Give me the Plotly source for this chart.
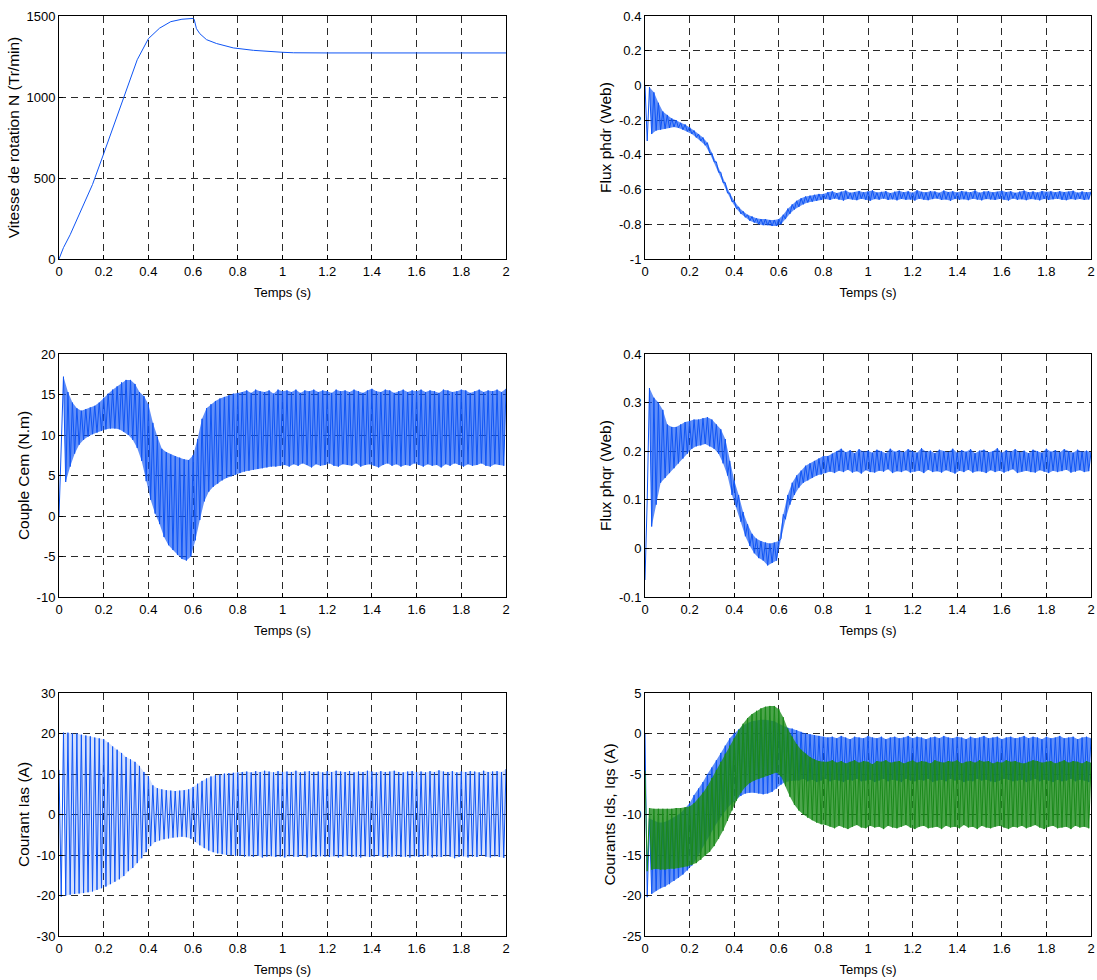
import plotly.graph_objects as go

# ---------------- data ----------------
# sample times: "hi" samples at 0.02*k, "lo" samples at 0.02*k+0.01
t_hi = [round(0.02 * k, 2) for k in range(101)]
t_lo = [round(0.02 * k + 0.01, 2) for k in range(100)]

# Vitesse de rotation N (Tr/min)
speed_t = [0, 0.01, 0.02, 0.05, 0.1, 0.15, 0.2, 0.25, 0.3, 0.35, 0.4, 0.45, 0.5, 0.55, 0.6,
           0.605, 0.615, 0.63, 0.66, 0.705, 0.78, 0.87, 1.0, 1.05, 1.2, 1.5, 2.0]
speed_N = [0, 40, 70, 150, 300, 460, 650, 840, 1040, 1230, 1360, 1425, 1465, 1480, 1485,
           1478, 1422, 1391, 1354, 1330, 1303, 1288, 1276, 1273, 1272, 1272, 1272]

# Flux phdr (Web)
phdr_hi = [0.0, -0.01, -0.04, -0.10, -0.15, -0.17, -0.19, -0.20, -0.215, -0.225,
           -0.24, -0.26, -0.28, -0.30, -0.33, -0.39, -0.44, -0.50, -0.56, -0.62,
           -0.665, -0.70, -0.725, -0.745, -0.755, -0.765, -0.77, -0.77, -0.775, -0.775,
           -0.77, -0.745, -0.71, -0.685, -0.665, -0.65, -0.64, -0.635, -0.63, -0.625,
           -0.625,
           -0.615, -0.610, -0.620, -0.612, -0.606, -0.618, -0.614, -0.608, -0.616, -0.611,
           -0.605, -0.617, -0.613, -0.609, -0.620, -0.612, -0.607, -0.615, -0.610, -0.618,
           -0.604, -0.613, -0.616, -0.609, -0.611, -0.619, -0.606, -0.614, -0.610, -0.617,
           -0.608, -0.612, -0.615, -0.605, -0.618, -0.611, -0.609, -0.616, -0.613, -0.607,
           -0.614, -0.610, -0.619, -0.612, -0.606, -0.615, -0.611, -0.617, -0.608, -0.613,
           -0.610, -0.616, -0.609, -0.614, -0.612, -0.607, -0.618, -0.611, -0.615, -0.612]
phdr_lo = [-0.32, -0.28, -0.26, -0.255, -0.25, -0.245, -0.24, -0.245, -0.255, -0.265,
           -0.28, -0.30, -0.32, -0.345, -0.39, -0.44, -0.50, -0.56, -0.62, -0.67,
           -0.71, -0.74, -0.76, -0.78, -0.79, -0.80, -0.805, -0.805, -0.81, -0.81,
           -0.80, -0.77, -0.74, -0.715, -0.70, -0.685, -0.675, -0.67, -0.665, -0.66,
           -0.655, -0.660, -0.652, -0.658, -0.663, -0.654, -0.657, -0.661, -0.653, -0.659,
           -0.664, -0.655, -0.658, -0.652, -0.660, -0.656, -0.662, -0.654, -0.659, -0.657,
           -0.663, -0.653, -0.658, -0.661, -0.655, -0.652, -0.660, -0.657, -0.664, -0.654,
           -0.659, -0.656, -0.661, -0.653, -0.658, -0.662, -0.655, -0.657, -0.660, -0.654,
           -0.658, -0.663, -0.652, -0.659, -0.656, -0.661, -0.655, -0.657, -0.662, -0.654,
           -0.660, -0.656, -0.653, -0.659, -0.661, -0.655, -0.658, -0.654, -0.660, -0.657]

# Couple Cem (N.m)
cem_hi = [0.0, 17.2, 15.3, 14.0, 13.3, 13.0, 13.2, 13.4, 13.6, 14.0,
          14.6, 15.1, 15.6, 16.0, 16.5, 16.8, 16.8, 16.3, 15.3, 14.8,
          13.8, 11.5, 9.8, 8.3, 7.9, 7.6, 7.4, 7.2, 7.0, 6.9,
          7.5, 9.5, 12.0, 13.3, 13.8, 14.2, 14.5, 14.7, 14.9, 15.1,
          15.2,
          15.3, 15.5, 15.2, 15.6, 15.4, 15.3, 15.5, 15.1, 15.6, 15.4,
          15.5, 15.3, 15.6, 15.2, 15.5, 15.4, 15.6, 15.3, 15.5, 15.4,
          15.2, 15.6, 15.4, 15.5, 15.3, 15.6, 15.4, 15.2, 15.5, 15.7,
          15.4, 15.3, 15.6, 15.5, 15.2, 15.4, 15.6, 15.3, 15.5, 15.4,
          15.6, 15.3, 15.5, 15.4, 15.2, 15.6, 15.5, 15.3, 15.4, 15.6,
          15.5, 15.2, 15.4, 15.6, 15.3, 15.5, 15.4, 15.6, 15.3, 15.7]
cem_lo = [9.0, 4.2, 6.1, 7.7, 8.8, 9.4, 9.8, 10.1, 10.3, 10.5,
          10.7, 10.8, 10.8, 10.7, 10.4, 10.0, 9.4, 8.4, 6.8, 4.3,
          2.0, 0.3, -1.0, -2.6, -3.6, -4.2, -4.8, -5.3, -5.5, -5.0,
          -3.0, -0.5, 1.8, 3.0, 3.6, 4.0, 4.4, 4.7, 4.9, 5.1,
          5.3, 5.5, 5.6, 5.7, 5.8, 5.9, 6.0, 6.1, 6.1, 6.2,
          6.3, 6.1, 6.4, 6.2, 6.5, 6.3, 6.0, 6.4, 6.2, 6.3,
          6.5, 6.2, 6.1, 6.4, 6.3, 6.2, 6.5, 6.1, 6.3, 6.4,
          6.2, 6.0, 6.3, 6.5, 6.2, 6.4, 6.1, 6.3, 6.2, 6.5,
          6.3, 6.1, 6.4, 6.2, 6.3, 6.0, 6.4, 6.2, 6.5, 6.3,
          6.1, 6.4, 6.2, 6.3, 6.5, 6.2, 6.1, 6.4, 6.3, 6.2]

# Flux phqr (Web)
phqr_hi = [-0.065, 0.33, 0.31, 0.30, 0.285, 0.255, 0.25, 0.25, 0.255, 0.26,
           0.262, 0.265, 0.265, 0.268, 0.27, 0.265, 0.255, 0.245, 0.225, 0.18,
           0.14, 0.11, 0.075, 0.05, 0.03, 0.02, 0.015, 0.012, 0.01, 0.012,
           0.015, 0.07, 0.11, 0.135, 0.15, 0.16, 0.17, 0.175, 0.18, 0.185,
           0.19, 0.19,
           0.195, 0.200, 0.205, 0.198, 0.202, 0.196, 0.204, 0.199, 0.201, 0.197,
           0.203, 0.200, 0.196, 0.205, 0.199, 0.202, 0.198, 0.204, 0.200, 0.197,
           0.206, 0.199, 0.201, 0.196, 0.203, 0.200, 0.198, 0.205, 0.197, 0.202,
           0.199, 0.204, 0.196, 0.201, 0.203, 0.198, 0.200, 0.206, 0.197, 0.202,
           0.199, 0.204, 0.198, 0.201, 0.196, 0.203, 0.200, 0.197, 0.205, 0.199,
           0.202, 0.198, 0.204, 0.200, 0.197, 0.203, 0.199, 0.201, 0.198]
phqr_lo = [0.10, 0.045, 0.09, 0.135, 0.145, 0.155, 0.165, 0.175, 0.185, 0.195,
           0.205, 0.21, 0.212, 0.215, 0.21, 0.205, 0.195, 0.175, 0.15, 0.11,
           0.085, 0.055, 0.025, 0.005, -0.01, -0.02, -0.025, -0.035, -0.03, -0.025,
           0.02, 0.06, 0.09, 0.11, 0.125, 0.135, 0.14, 0.145, 0.15, 0.152,
           0.155,
           0.158, 0.155, 0.160, 0.157, 0.162, 0.156, 0.159, 0.154, 0.161, 0.157,
           0.156, 0.160, 0.158, 0.163, 0.155, 0.159, 0.157, 0.161, 0.156, 0.158,
           0.160, 0.155, 0.162, 0.157, 0.159, 0.156, 0.161, 0.158, 0.154, 0.160,
           0.157, 0.162, 0.156, 0.159, 0.158, 0.155, 0.161, 0.157, 0.160, 0.156,
           0.159, 0.163, 0.155, 0.158, 0.160, 0.157, 0.156, 0.161, 0.158, 0.155,
           0.160, 0.157, 0.159, 0.162, 0.156, 0.158, 0.161, 0.157, 0.159]

# Courant Ias (A)
ias_hi = [11.0, 20.2, 20.2, 20.0, 20.0, 19.7, 19.5, 19.3, 19.0, 18.8,
          18.6, 17.8, 16.8, 16.0, 15.2, 14.2, 13.6, 13.0, 12.0, 10.5,
          9.5, 7.2, 6.5, 6.2, 6.0, 5.9, 5.8, 5.9, 6.0, 6.2,
          6.8, 7.6, 8.3, 8.9, 9.4, 9.7, 9.9, 10.1, 10.2, 10.3,
          10.4,
          10.5, 10.6, 10.4, 10.7, 10.5, 10.8, 10.6, 10.4, 10.7, 10.5,
          10.6, 10.5, 10.8, 10.4, 10.6, 10.7, 10.5, 10.6, 10.4, 10.7,
          10.5, 10.8, 10.6, 10.5, 10.7, 10.4, 10.6, 10.5, 10.8, 10.6,
          10.4, 10.7, 10.5, 10.6, 10.8, 10.5, 10.4, 10.6, 10.7, 10.5,
          10.6, 10.4, 10.7, 10.5, 10.9, 10.6, 10.5, 10.7, 10.4, 10.6,
          10.5, 10.7, 10.6, 10.4, 10.8, 10.5, 10.6, 10.7, 10.5, 11.2]
ias_lo = [-20.3, -20.0, -19.8, -19.6, -19.5, -19.4, -19.2, -19.0, -18.6, -18.2,
          -17.8, -17.2, -16.6, -16.0, -15.2, -14.0, -13.2, -12.0, -10.8, -9.3,
          -7.8, -6.8, -6.4, -6.1, -5.9, -5.7, -5.6, -5.5, -5.6, -6.0,
          -6.8, -7.6, -8.3, -8.9, -9.3, -9.6, -9.8, -10.0, -10.1, -10.2,
          -10.2, -10.4, -10.3, -10.5, -10.2, -10.6, -10.4, -10.3, -10.5, -10.4,
          -10.6, -10.3, -10.4, -10.5, -10.2, -10.6, -10.4, -10.5, -10.3, -10.4,
          -10.5, -10.3, -10.6, -10.4, -10.2, -10.5, -10.4, -10.6, -10.3, -10.5,
          -10.4, -10.2, -10.5, -10.6, -10.4, -10.3, -10.5, -10.4, -10.6, -10.3,
          -10.5, -10.4, -10.2, -10.6, -10.4, -10.5, -10.3, -10.4, -10.8, -10.5,
          -10.3, -10.6, -10.4, -10.5, -10.2, -10.4, -10.6, -10.3, -10.5, -10.7]

# Courant Ids (A) - blue
ids_hi = [0.0, -10.5, -10.8, -11.0, -11.0, -10.8, -10.5, -10.2, -9.8, -9.2,
          -8.6, -7.6, -6.8, -6.0, -5.0, -4.2, -3.3, -2.4, -1.5, -0.6,
          0.0, 0.5, 1.0, 1.3, 1.5, 1.6, 1.7, 1.7, 1.6, 1.5,
          1.2, 0.9, 0.7, 0.6, 0.4, 0.2, 0.0, -0.1, -0.2, -0.3,
          -0.4,
          -0.5, -0.4, -0.6, -0.3, -0.5, -0.7, -0.4, -0.5, -0.6, -0.3,
          -0.5, -0.6, -0.4, -0.7, -0.5, -0.4, -0.6, -0.5, -0.3, -0.6,
          -0.4, -0.5, -0.7, -0.5, -0.4, -0.6, -0.3, -0.5, -0.6, -0.4,
          -0.5, -0.7, -0.4, -0.6, -0.5, -0.3, -0.6, -0.5, -0.4, -0.7,
          -0.5, -0.4, -0.6, -0.5, -0.3, -0.6, -0.4, -0.5, -0.7, -0.4,
          -0.6, -0.5, -0.3, -0.6, -0.5, -0.4, -0.7, -0.5, -0.4, -0.6]
ids_lo = [-20.2, -19.8, -19.4, -19.1, -18.9, -18.6, -18.2, -17.8, -17.4, -16.9,
          -16.3, -15.5, -14.6, -13.6, -12.6, -11.6, -10.7, -9.9, -9.2, -8.6,
          -8.1, -7.7, -7.4, -7.3, -7.3, -7.4, -7.5, -7.4, -7.2, -6.8,
          -6.3, -6.0, -5.9, -5.8,
          -5.8, -5.6, -5.9, -5.7, -6.0, -5.8, -5.6, -5.9, -5.7, -5.8,
          -6.0, -5.7, -5.8, -5.6, -5.9, -5.8, -5.7, -6.0, -5.8, -5.6,
          -5.9, -5.7, -5.8, -6.0, -5.6, -5.8, -5.9, -5.7, -5.8, -5.6,
          -6.0, -5.8, -5.7, -5.9, -5.6, -5.8, -5.7, -6.0, -5.8, -5.9,
          -5.6, -5.8, -5.7, -5.9, -6.0, -5.8, -5.6, -5.7, -5.9, -5.8,
          -5.7, -6.0, -5.8, -5.6, -5.9, -5.7, -5.8, -6.0, -5.7, -5.9,
          -5.8, -5.6, -5.9, -5.7, -5.8, -6.0]

# Courant Iqs (A) - green
iqs_hi = [-4.6, -9.2, -9.3, -9.3, -9.3, -9.3, -9.3, -9.2, -9.2, -9.1,
          -9.0, -8.6, -8.0, -7.3, -6.5, -5.5, -4.5, -3.5, -2.5, -1.5,
          -0.6, 0.4, 1.2, 1.9, 2.4, 2.8, 3.1, 3.3, 3.4, 3.4,
          3.0, 2.0, 0.6, -0.4, -1.3, -2.0, -2.5, -2.9, -3.2, -3.4,
          -3.5,
          -3.5, -3.3, -3.6, -3.4, -3.7, -3.5, -3.3, -3.6, -3.4, -3.5,
          -3.8, -3.4, -3.5, -3.3, -3.6, -3.5, -3.4, -3.7, -3.5, -3.3,
          -3.6, -3.4, -3.5, -3.7, -3.3, -3.5, -3.6, -3.4, -3.5, -3.3,
          -3.7, -3.5, -3.4, -3.6, -3.3, -3.5, -3.4, -3.7, -3.5, -3.6,
          -3.3, -3.5, -3.4, -3.6, -3.7, -3.5, -3.3, -3.4, -3.6, -3.5,
          -3.4, -3.7, -3.5, -3.3, -3.6, -3.4, -3.5, -3.7, -3.4, -3.6]
iqs_lo = [-17.0, -16.8, -16.7, -16.8, -16.8, -16.7, -16.7, -16.6, -16.5, -16.4,
          -16.2, -16.0, -15.6, -15.1, -14.6, -13.9, -13.0, -12.0, -10.8, -9.5,
          -8.3, -7.3, -6.6, -6.1, -5.8, -5.6, -5.4, -5.2, -5.0, -4.8,
          -5.3, -6.5, -7.8, -8.8, -9.5, -10.0, -10.4, -10.7, -11.0, -11.2,
          -11.3,
          -11.5, -11.7, -11.4, -11.6, -11.8, -11.5, -11.3, -11.6, -11.7, -11.4,
          -11.6, -11.5, -11.8, -11.4, -11.6, -11.7, -11.5, -11.3, -11.6, -11.8,
          -11.5, -11.4, -11.7, -11.6, -11.5, -11.8, -11.4, -11.6, -11.5, -11.7,
          -11.3, -11.6, -11.5, -11.8, -11.4, -11.6, -11.7, -11.5, -11.4, -11.6,
          -11.8, -11.5, -11.6, -11.4, -11.7, -11.5, -11.3, -11.6, -11.8, -11.5,
          -11.4, -11.7, -11.6, -11.5, -11.8, -11.4, -11.6, -11.5, -11.7]

# tick labels
x_ticks = [0, 0.2, 0.4, 0.6, 0.8, 1.0, 1.2, 1.4, 1.6, 1.8, 2.0]
x_ticktext = ["0", "0.2", "0.4", "0.6", "0.8", "1", "1.2", "1.4", "1.6", "1.8", "2"]
y1_ticks = [0, 500, 1000, 1500]
y1_text = ["0", "500", "1000", "1500"]
y2_ticks = [-1, -0.8, -0.6, -0.4, -0.2, 0, 0.2, 0.4]
y2_text = ["-1", "-0.8", "-0.6", "-0.4", "-0.2", "0", "0.2", "0.4"]
y3_ticks = [-10, -5, 0, 5, 10, 15, 20]
y3_text = ["-10", "-5", "0", "5", "10", "15", "20"]
y4_ticks = [-0.1, 0, 0.1, 0.2, 0.3, 0.4]
y4_text = ["-0.1", "0", "0.1", "0.2", "0.3", "0.4"]
y5_ticks = [-30, -20, -10, 0, 10, 20, 30]
y5_text = ["-30", "-20", "-10", "0", "10", "20", "30"]
y6_ticks = [-25, -20, -15, -10, -5, 0, 5]
y6_text = ["-25", "-20", "-15", "-10", "-5", "0", "5"]

BLUE = "#0f55f5"
BLUE_FILL = "rgba(15,85,245,0.66)"
BLUE_LIGHT = "rgba(15,85,245,0.18)"
GREEN = "#1a8a1a"
GREEN_FILL = "rgba(26,138,26,0.78)"


def zigzag(hi, lo):
    xs, ys = [], []
    for k in range(len(hi)):
        xs.append(t_hi[k]); ys.append(hi[k])
        if k < len(lo):
            xs.append(t_lo[k]); ys.append(lo[k])
    return xs, ys


def band(hi, lo):
    xs = t_hi[1:len(hi)] + t_lo[1:len(lo)][::-1]
    ys = hi[1:] + lo[1:][::-1]
    return xs, ys


fig = go.Figure()


def add_line(xs, ys, ax, color):
    fig.add_trace(go.Scatter(x=xs, y=ys, mode="lines", xaxis="x" + ax, yaxis="y" + ax,
                             line=dict(color=color, width=1), showlegend=False,
                             hoverinfo="skip"))


def add_band(hi, lo, ax, fillcolor):
    xs, ys = band(hi, lo)
    fig.add_trace(go.Scatter(x=xs, y=ys, mode="lines", xaxis="x" + ax, yaxis="y" + ax,
                             fill="toself", fillcolor=fillcolor, line=dict(width=0),
                             showlegend=False, hoverinfo="skip"))


add_line(speed_t, speed_N, "", BLUE)
add_band(phdr_hi, phdr_lo, "2", BLUE_FILL)
add_line(*zigzag(phdr_hi, phdr_lo), "2", BLUE)
add_band(cem_hi, cem_lo, "3", BLUE_FILL)
add_line(*zigzag(cem_hi, cem_lo), "3", BLUE)
add_band(phqr_hi, phqr_lo, "4", BLUE_FILL)
add_line(*zigzag(phqr_hi, phqr_lo), "4", BLUE)
add_band(ias_hi, ias_lo, "5", BLUE_LIGHT)
add_line(*zigzag(ias_hi, ias_lo), "5", BLUE)
add_band(ids_hi, ids_lo, "6", BLUE_FILL)
add_line(*zigzag(ids_hi, ids_lo), "6", BLUE)
add_band(iqs_hi, iqs_lo, "6", GREEN_FILL)
add_line(*zigzag(iqs_hi, iqs_lo), "6", GREEN)

FONT = "Liberation Sans Narrow, Arial Narrow, Liberation Sans, Arial, sans-serif"
TFONT = "Liberation Sans, Arial, sans-serif"
W, H = 1097, 980
colx = [[59 / W, 506 / W], [645 / W, 1091 / W]]
rowy = [[1 - 259 / H, 1 - 16 / H],
        [1 - 597 / H, 1 - 354 / H],
        [1 - 936 / H, 1 - 693 / H]]

ytitles = ["Vitesse de rotation N (Tr/min)", "Flux phdr (Web)", "Couple Cem (N.m)",
           "Flux phqr (Web)", "Courant Ias (A)", "Courants Ids, Iqs (A)"]
yranges = [[0, 1500], [-1, 0.4], [-10, 20], [-0.1, 0.4], [-30, 30], [-25, 5]]
yticks = [(y1_ticks, y1_text), (y2_ticks, y2_text), (y3_ticks, y3_text),
          (y4_ticks, y4_text), (y5_ticks, y5_text), (y6_ticks, y6_text)]

common = dict(showline=True, linecolor="black", linewidth=1, mirror=True,
              showgrid=True, gridcolor="#2a2a2a", gridwidth=1, griddash="7px,5px",
              zeroline=False, ticks="inside", ticklen=4, tickcolor="black",
              tickfont=dict(family=FONT, size=13, color="black"), automargin=False)

layout = {}
for i in range(6):
    r, c = divmod(i, 2)
    sfx = "" if i == 0 else str(i + 1)
    layout["xaxis" + sfx] = dict(domain=colx[c], anchor="y" + sfx, range=[0, 2],
                                 tickvals=x_ticks, ticktext=x_ticktext,
                                 title=dict(text="Temps (s)", standoff=10,
                                            font=dict(family=TFONT, size=13, color="black")),
                                 **common)
    layout["yaxis" + sfx] = dict(domain=rowy[r], anchor="x" + sfx, range=yranges[i],
                                 tickvals=yticks[i][0], ticktext=yticks[i][1],
                                 title=dict(text=ytitles[i], standoff=3,
                                            font=dict(family=TFONT, size=15.5, color="black")),
                                 **common)

fig.update_layout(width=W, height=H, margin=dict(l=0, r=0, t=0, b=0),
                  paper_bgcolor="white", plot_bgcolor="white",
                  font=dict(family=FONT, size=13, color="black"), **layout)

fig.write_html("out.html", config={"displayModeBar": False},
               post_script="document.body.style.margin='0';document.body.style.overflow='hidden';")
